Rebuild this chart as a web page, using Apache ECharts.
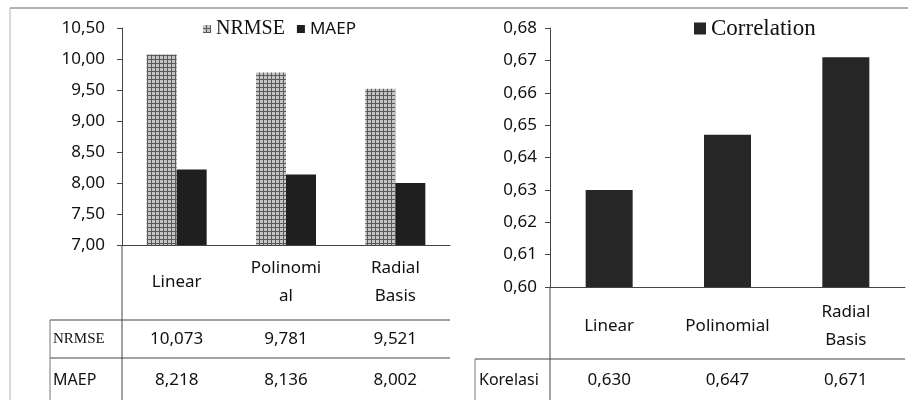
<!DOCTYPE html>
<html>
<head>
<meta charset="utf-8">
<script src="https://cdn.jsdelivr.net/npm/echarts@6/dist/echarts.min.js"></script>
<style>
html,body{margin:0;padding:0;background:#fff;}
#chart{width:908px;height:405px;}
</style>
</head>
<body>
<div id="chart"></div>
<script>
// ---- data ----
var categories = ['Linear', 'Polinomial', 'Radial Basis'];
var leftCategoryLabels = ['Linear', 'Polinomi\nal', 'Radial\nBasis'];
var rightCategoryLabels = ['Linear', 'Polinomial', 'Radial\nBasis'];
var nrmse = [10.073, 9.781, 9.521];
var maep = [8.218, 8.136, 8.002];
var korelasi = [0.630, 0.647, 0.671];
var leftTicks = { min: 7.0, max: 10.5, interval: 0.5 };
var rightTicks = { min: 0.60, max: 0.68, interval: 0.01 };

function fmt(v, d) { return v.toFixed(d).replace('.', ','); }

// pattern for NRMSE
var pc = document.createElement('canvas');
pc.width = 4; pc.height = 4;
var pctx = pc.getContext('2d');
pctx.fillStyle = '#c4c4c4';
pctx.fillRect(0, 0, 4, 4);
pctx.fillStyle = '#5a5a5a';
pctx.fillRect(0, 3, 4, 1);
pctx.fillRect(3, 0, 1, 4);

var sans = 'Noto Sans';
var serif = 'Liberation Serif';
var txt = '#111111';
var lineC = '#444444';

var chart = echarts.init(document.getElementById('chart'));

function L(x1, y1, x2, y2, c, w) {
  return { type: 'line', silent: true, shape: { x1: x1, y1: y1, x2: x2, y2: y2 },
           style: { stroke: c || lineC, lineWidth: w || 1 } };
}
function T(x, y, text, font, size) {
  return { type: 'text', silent: true, x: x, y: y,
           style: { text: text, fontFamily: font, fontSize: size, fill: txt, verticalAlign: 'middle', align: 'left' } };
}

var valueAxisCommon = {
  type: 'value',
  axisLine: { show: true, lineStyle: { color: lineC } },
  axisTick: { show: true, length: 5, lineStyle: { color: lineC } },
  splitLine: { show: false },
  axisLabel: { color: txt, fontFamily: sans, fontSize: 17 }
};

var hiddenCat = function (data, grid, margin) {
  return {
    type: 'category', gridIndex: grid, data: data, position: 'bottom', offset: 0,
    axisLine: { show: false }, axisTick: { show: false },
    axisLabel: { color: txt, fontFamily: sans, fontSize: 17, margin: margin, verticalAlign: 'middle', lineHeight: 28, interval: 0 }
  };
};

var option = {
  backgroundColor: '#fff',
  animation: false,
  legend: [
    {
      left: 198, top: 14, itemWidth: 8, itemHeight: 8, itemGap: 12, icon: 'rect',
      data: [
        { name: 'NRMSE', textStyle: { fontFamily: serif, fontSize: 20, color: txt } },
        { name: 'MAEP', textStyle: { fontFamily: sans, fontSize: 17, color: txt } }
      ]
    },
    {
      left: 689, top: 12, itemWidth: 12, itemHeight: 12, icon: 'rect',
      data: [{ name: 'Correlation', textStyle: { fontFamily: serif, fontSize: 23, color: txt } }]
    }
  ],
  grid: [
    { left: 122, top: 28, width: 328, height: 217 },
    { left: 550, top: 28, width: 355, height: 259 }
  ],
  xAxis: [
    {
      type: 'category', gridIndex: 0, data: leftCategoryLabels,
      axisLine: { show: true, lineStyle: { color: lineC } }, axisTick: { show: false },
      axisLabel: { color: txt, fontFamily: sans, fontSize: 17, margin: 37, verticalAlign: 'middle', lineHeight: 28, interval: 0 }
    },
    hiddenCat(nrmse.map(function (v) { return fmt(v, 3); }), 0, 94),
    hiddenCat(maep.map(function (v) { return fmt(v, 3); }), 0, 135),
    {
      type: 'category', gridIndex: 1, data: rightCategoryLabels,
      axisLine: { show: true, lineStyle: { color: lineC } }, axisTick: { show: false },
      axisLabel: { color: txt, fontFamily: sans, fontSize: 17, margin: 39, verticalAlign: 'middle', lineHeight: 28, interval: 0 }
    },
    hiddenCat(korelasi.map(function (v) { return fmt(v, 3); }), 1, 93)
  ],
  yAxis: [
    Object.assign({}, valueAxisCommon, {
      gridIndex: 0, min: leftTicks.min, max: leftTicks.max, interval: leftTicks.interval,
      axisLabel: Object.assign({}, valueAxisCommon.axisLabel, { margin: 17, formatter: function (v) { return fmt(v, 2); } })
    }),
    Object.assign({}, valueAxisCommon, {
      gridIndex: 1, min: rightTicks.min, max: rightTicks.max, interval: rightTicks.interval,
      axisLabel: Object.assign({}, valueAxisCommon.axisLabel, { margin: 13, formatter: function (v) { return fmt(v, 2); } })
    })
  ],
  series: [
    { name: 'NRMSE', type: 'bar', xAxisIndex: 0, yAxisIndex: 0, data: nrmse, barWidth: 30, barGap: '0%',
      itemStyle: { color: { image: pc, repeat: 'repeat' } } },
    { name: 'MAEP', type: 'bar', xAxisIndex: 0, yAxisIndex: 0, data: maep, barWidth: 30, barGap: '0%',
      itemStyle: { color: '#1f1f1f' } },
    { name: 'Correlation', type: 'bar', xAxisIndex: 3, yAxisIndex: 1, data: korelasi, barWidth: 47,
      itemStyle: { color: '#262626' } }
  ],
  graphic: [
    // outer frame
    L(10, 8, 908, 8, '#8f9aa3', 1.5),
    L(10, 8, 10, 400, '#b5b5b5', 1),
    // left table
    L(122, 245, 122, 400),
    L(50, 320, 450, 320),
    L(50, 358, 450, 358),
    L(50, 320, 50, 400, '#777'),
    T(53, 339, 'NRMSE', serif, 15),
    T(53, 380, 'MAEP', sans, 16),
    // right table
    L(550, 287, 550, 400),
    L(475, 359, 905, 359),
    L(475, 359, 475, 400, '#777'),
    T(479, 380, 'Korelasi', sans, 16)
  ]
};
chart.setOption(option);
</script>
</body>
</html>
